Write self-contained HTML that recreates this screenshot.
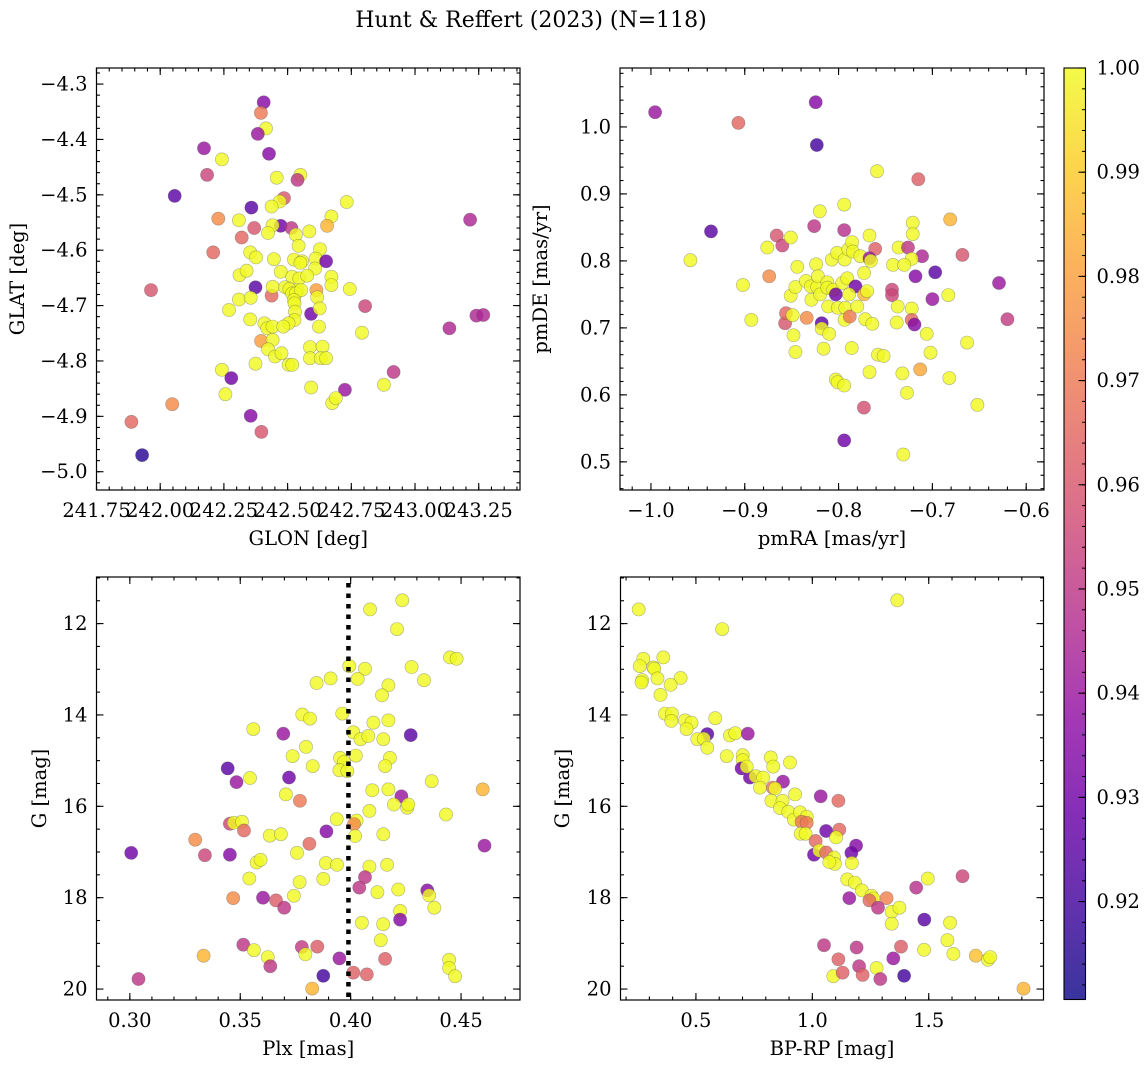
<!DOCTYPE html>
<html><head><meta charset="utf-8">
<style>
html,body{margin:0;padding:0;background:#fff;}
svg text{font-family:"DejaVu Serif","Liberation Serif",serif;fill:#000;}
</style></head>
<body>
<svg id="fig" width="1148" height="1067" viewBox="0 0 1148 1067" xmlns="http://www.w3.org/2000/svg">
<rect width="1148" height="1067" fill="#fff"/>
<text x="531" y="27" font-size="22" text-anchor="middle">Hunt &amp; Reffert (2023) (N=118)</text>
</svg>
<script>
// ---------- Panel 1: GLON / GLAT ----------
const p1Lon=[242.406,242.395,242.415,242.383,242.427,242.172,242.184,242.242,242.057,242.457,242.550,242.539,242.486,242.469,242.437,242.732,242.358,242.228,242.309,242.369,242.320,242.473,242.441,242.515,242.423,242.532,242.543,242.585,242.672,242.655,242.208,242.353,242.376,242.446,242.627,242.610,242.608,242.651,242.525,242.557,242.550,242.473,242.311,242.339,242.518,242.546,242.577,242.672,242.672,242.374,241.964,242.744,242.539,242.613,242.616,242.309,242.355,242.437,242.441,242.490,242.507,242.518,242.532,242.553,242.525,242.527,242.529,242.527,242.504,242.270,242.592,242.804,242.792,243.135,243.241,243.268,243.216,242.353,242.409,242.420,242.441,242.483,242.396,242.441,242.423,242.451,242.476,242.504,242.518,242.588,242.588,242.637,242.630,242.651,242.374,242.242,242.279,242.256,242.047,242.592,242.725,242.675,242.689,242.878,242.916,242.355,242.397,241.887,241.929,242.626,242.623];
const p1Lat=[-4.333,-4.352,-4.380,-4.390,-4.426,-4.416,-4.464,-4.436,-4.502,-4.469,-4.464,-4.473,-4.506,-4.512,-4.521,-4.513,-4.523,-4.543,-4.546,-4.560,-4.577,-4.556,-4.555,-4.560,-4.569,-4.572,-4.592,-4.566,-4.539,-4.556,-4.604,-4.604,-4.613,-4.616,-4.598,-4.615,-4.633,-4.620,-4.617,-4.620,-4.623,-4.639,-4.645,-4.637,-4.648,-4.651,-4.646,-4.648,-4.663,-4.667,-4.672,-4.670,-4.672,-4.672,-4.685,-4.689,-4.686,-4.682,-4.666,-4.667,-4.670,-4.678,-4.678,-4.672,-4.690,-4.696,-4.711,-4.726,-4.732,-4.708,-4.715,-4.701,-4.749,-4.741,-4.718,-4.717,-4.545,-4.725,-4.732,-4.741,-4.738,-4.738,-4.764,-4.762,-4.779,-4.792,-4.786,-4.807,-4.807,-4.775,-4.795,-4.774,-4.795,-4.795,-4.805,-4.816,-4.831,-4.860,-4.878,-4.848,-4.852,-4.876,-4.867,-4.843,-4.820,-4.899,-4.928,-4.910,-4.970,-4.705,-4.738];
const p1Prob=[0.935,0.97,1,0.94,0.935,0.94,0.955,1,0.925,1,1,0.95,0.96,1,1,1,0.925,0.975,1,0.96,0.965,0.93,1,0.95,1,1,1,1,1,0.985,0.965,1,1,1,1,1,1,0.93,1,1,1,1,1,1,1,1,1,1,1,0.925,0.96,1,1,0.98,1,1,1,0.965,1,1,1,1,1,1,1,1,1,1,1,1,0.93,0.955,1,0.945,0.945,0.945,0.945,1,1,1,1,1,0.98,1,1,1,1,1,1,1,1,1,1,1,1,1,0.93,1,0.975,1,0.94,1,1,1,0.95,0.935,0.96,0.965,0.915,1,1];
// ---------- Panel 2: pmRA / pmDE ----------
const p2Ra=[-0.9956,-0.9068,-0.8244,-0.8232,-0.759,-0.715,-0.936,-0.958,-0.902,-0.893,-0.874,-0.866,-0.860,-0.876,-0.851,-0.820,-0.794,-0.826,-0.794,-0.767,-0.761,-0.721,-0.721,-0.681,-0.736,-0.726,-0.711,-0.722,-0.668,-0.742,-0.730,-0.718,-0.697,-0.629,-0.620,-0.700,-0.683,-0.743,-0.743,-0.737,-0.722,-0.738,-0.722,-0.719,-0.706,-0.702,-0.663,-0.713,-0.682,-0.652,-0.732,-0.727,-0.731,-0.794,-0.773,-0.767,-0.758,-0.752,-0.786,-0.803,-0.801,-0.794,-0.816,-0.846,-0.848,-0.857,-0.856,-0.849,-0.834,-0.818,-0.818,-0.810,-0.811,-0.829,-0.851,-0.846,-0.844,-0.8348,-0.8296,-0.8228,-0.8196,-0.824,-0.822,-0.812,-0.812,-0.8056,-0.803,-0.8072,-0.8016,-0.7936,-0.7896,-0.7856,-0.7848,-0.7768,-0.7728,-0.796,-0.7908,-0.782,-0.7888,-0.7728,-0.7696,-0.8008,-0.7928,-0.7936,-0.788,-0.78,-0.7716,-0.764,-0.767,-0.7656];
const p2De=[1.022,1.006,1.037,0.973,0.934,0.922,0.844,0.801,0.764,0.712,0.777,0.838,0.823,0.820,0.835,0.874,0.884,0.852,0.846,0.838,0.818,0.857,0.840,0.862,0.820,0.820,0.807,0.803,0.809,0.794,0.794,0.777,0.783,0.767,0.713,0.743,0.749,0.757,0.749,0.732,0.729,0.708,0.712,0.705,0.691,0.663,0.678,0.638,0.625,0.585,0.632,0.603,0.511,0.532,0.581,0.634,0.660,0.658,0.670,0.623,0.619,0.614,0.669,0.664,0.689,0.707,0.722,0.719,0.715,0.707,0.699,0.691,0.732,0.742,0.748,0.761,0.791,0.770,0.762,0.761,0.750,0.795,0.777,0.768,0.760,0.757,0.750,0.802,0.812,0.802,0.817,0.828,0.814,0.807,0.782,0.767,0.774,0.762,0.750,0.750,0.755,0.730,0.730,0.712,0.717,0.732,0.713,0.706,0.804,0.800];
const p2Prob=[0.94,0.965,0.935,0.92,1,0.963,0.925,1,1,1,0.975,0.96,0.955,1,1,1,1,0.95,0.948,1,0.963,1,1,0.985,1,0.95,0.945,1,0.96,1,1,0.935,0.925,0.94,0.952,0.94,1,0.955,0.955,1,1,1,0.965,0.935,1,1,1,0.982,1,1,1,1,1,0.93,0.958,1,1,1,1,1,1,1,1,1,1,0.96,0.965,1,0.975,0.925,1,1,1,1,1,1,1,1,1,1,1,1,1,1,1,1,0.93,1,1,1,1,1,1,1,1,1,1,0.93,1,0.985,1,1,1,1,0.97,1,1,1,0.94,1];
// ---------- Panel 3: Plx / G ----------
const p3Plx=[0.4234,0.4088,0.4210,0.4450,0.4480,0.3994,0.4065,0.4032,0.4276,0.4332,0.3846,0.3909,0.4171,0.4142,0.3781,0.3816,0.3962,0.4103,0.4171,0.3559,0.3695,0.4272,0.4012,0.4045,0.4080,0.4148,0.3798,0.3737,0.4024,0.3952,0.3970,0.3949,0.3985,0.4178,0.4156,0.3828,0.3443,0.3721,0.3544,0.3483,0.4367,0.4598,0.3707,0.3770,0.4098,0.4171,0.4230,0.4196,0.4256,0.4261,0.4085,0.4432,0.3937,0.4027,0.4015,0.3453,0.3471,0.3508,0.3517,0.3296,0.3634,0.3684,0.3890,0.4020,0.4148,0.3813,0.4606,0.3006,0.3340,0.3453,0.3757,0.3574,0.3592,0.3888,0.3938,0.4085,0.4165,0.4065,0.4039,0.3541,0.3769,0.3876,0.4121,0.4216,0.4347,0.4356,0.4379,0.3468,0.3603,0.3662,0.3699,0.3743,0.4224,0.4224,0.4051,0.4147,0.4136,0.3514,0.3562,0.3625,0.3636,0.3779,0.3795,0.3849,0.3949,0.4156,0.3334,0.4446,0.4446,0.4473,0.3039,0.3876,0.4012,0.4073,0.3826];
const p3G=[11.49,11.69,12.12,12.74,12.77,12.93,12.99,13.21,12.95,13.24,13.30,13.20,13.35,13.57,13.99,14.08,13.97,14.17,14.12,14.31,14.41,14.44,14.38,14.53,14.46,14.53,14.70,14.90,14.89,14.94,15.03,15.21,15.23,14.94,15.12,15.12,15.17,15.37,15.38,15.47,15.45,15.63,15.74,15.88,15.65,15.63,15.78,15.96,16.03,15.96,16.10,16.18,16.28,16.31,16.39,16.38,16.36,16.34,16.53,16.73,16.64,16.61,16.55,16.65,16.61,16.82,16.86,17.02,17.07,17.06,17.02,17.23,17.17,17.24,17.28,17.32,17.28,17.55,17.78,17.58,17.66,17.59,17.88,17.82,17.84,17.95,18.22,18.01,18.00,18.06,18.22,17.96,18.29,18.48,18.55,18.58,18.93,19.03,19.15,19.30,19.50,19.08,19.24,19.07,19.33,19.34,19.27,19.36,19.54,19.72,19.78,19.71,19.64,19.68,19.99];
const p3Prob=[1,1,1,1,1,1,1,1,1,1,1,1,1,1,1,1,1,1,1,1,0.94,0.925,1,1,1,1,1,1,1,1,1,1,1,1,1,1,0.925,0.93,1,0.94,1,0.985,1,0.97,1,1,0.94,1,1,1,1,1,1,1,0.975,0.955,1,1,0.965,0.975,1,1,0.935,1,1,0.965,0.94,0.93,0.955,0.935,1,1,1,1,1,1,1,0.95,0.95,1,1,1,1,1,0.935,1,1,0.975,0.94,0.962,0.95,1,1,0.935,1,1,1,0.95,1,1,0.95,0.952,1,0.962,0.94,0.963,0.985,1,1,1,0.95,0.92,0.963,0.963,0.985];
// ---------- Panel 4: BP-RP / G ----------
const p4Col=[0.254,1.365,0.613,0.274,0.259,0.317,0.321,0.360,0.269,0.266,0.335,0.434,0.391,0.348,0.367,0.397,0.394,0.453,0.481,0.460,0.583,0.549,0.506,0.534,0.549,0.646,0.669,0.723,0.632,0.701,0.701,0.696,0.732,0.718,0.756,0.789,0.775,0.821,0.832,0.904,0.874,0.830,0.840,0.926,1.036,1.112,0.824,0.872,0.861,0.897,0.921,0.947,0.976,0.954,0.976,1.059,1.116,1.102,0.950,0.971,1.014,1.188,1.168,1.007,1.030,1.059,1.093,1.097,1.073,1.170,1.150,1.183,1.496,1.645,1.446,1.213,1.254,1.262,1.159,1.245,1.319,1.282,1.341,1.374,1.341,1.481,1.592,1.580,1.480,1.606,1.702,1.754,1.764,1.907,1.050,1.190,1.381,1.348,1.112,1.201,1.276,1.090,1.130,1.216,1.292,1.394];
const p4G=[11.69,11.49,12.12,12.77,12.93,12.96,12.99,12.74,13.24,13.29,13.20,13.19,13.34,13.56,13.97,13.97,14.13,14.12,14.17,14.31,14.07,14.42,14.53,14.52,14.72,14.45,14.40,14.41,14.90,14.88,14.99,15.17,15.37,15.13,15.34,15.37,15.59,14.93,15.13,15.04,15.46,15.59,15.61,15.74,15.78,15.88,15.88,15.88,16.04,16.12,16.29,16.13,16.23,16.34,16.36,16.54,16.51,16.68,16.60,16.60,16.76,16.86,17.02,17.06,16.97,17.01,17.12,17.26,17.22,17.24,17.60,17.67,17.58,17.53,17.78,17.84,17.96,18.02,18.01,18.06,18.01,18.22,18.31,18.22,18.57,18.48,18.55,18.93,19.14,19.23,19.27,19.36,19.30,19.99,19.04,19.09,19.07,19.33,19.35,19.50,19.54,19.72,19.64,19.69,19.78,19.71];
const p4Prob=[1,1,1,1,1,1,1,1,1,1,1,1,1,1,1,1,1,1,1,1,1,0.925,1,1,1,1,1,0.94,1,1,1,0.93,0.93,1,1,1,1,1,1,1,0.94,0.97,1,1,0.94,0.965,1,1,1,1,1,1,1,0.97,0.97,0.93,0.965,1,1,1,0.965,0.935,0.93,0.93,1,0.965,1,1,1,1,1,1,1,0.955,0.948,1,1,1,0.94,0.965,0.972,0.95,1,1,1,0.925,1,1,1,1,0.988,1,1,0.985,0.95,0.95,0.962,0.94,0.963,0.95,1,1,0.963,0.963,0.95,0.92];
// ---------- Colorbar ----------
const cbTicks=[0.92,0.93,0.94,0.95,0.96,0.97,0.98,0.99,1.00];
const cbMin=0.9106, cbMax=1.0;

const FS=19.5;
const NS="http://www.w3.org/2000/svg";
const svg=document.getElementById('fig');
function mk(tag,attrs,parent){const e=document.createElementNS(NS,tag);for(const k in attrs)e.setAttribute(k,attrs[k]);(parent||svg).appendChild(e);return e;}
const stops=[[13,8,135],[65,4,157],[106,0,168],[143,13,164],[177,42,144],[204,71,120],[225,100,98],[242,132,75],[252,166,54],[252,206,37],[240,249,33]];
function plasma(t){t=Math.max(0,Math.min(1,t));const f=t*10,i=Math.min(9,Math.floor(f)),u=f-i;const a=stops[i],b=stops[i+1];return 'rgb('+[0,1,2].map(k=>Math.round(a[k]+(b[k]-a[k])*u)).join(',')+')';}
function probColor(p){return plasma((p-cbMin)/(cbMax-cbMin));}
function fmt(v,d){return (v<0?'\u2212':'')+Math.abs(v).toFixed(d);}

function panel(cfg){
  const g=mk('g',{});
  
  
  const {x0,x1,y0,y1,xlim,ylim}=cfg;
  const sx=v=>x0+(v-xlim[0])/(xlim[1]-xlim[0])*(x1-x0);
  const sy=v=>y1-(v-ylim[0])/(ylim[1]-ylim[0])*(y1-y0);
  const pg=mk('g',{},g);
  
  
  for(let i=0;i<cfg.xs.length;i++){
    const c=mk('circle',{cx:sx(cfg.xs[i]).toFixed(1),cy:sy(cfg.ys[i]).toFixed(1),r:6.6,fill:probColor(cfg.ps[i]),'fill-opacity':0.82,stroke:'#555','stroke-opacity':0.45,'stroke-width':0.6},pg);
    
    
  }
  if(cfg.vline!==undefined){
    const l=mk('line',{x1:sx(cfg.vline),x2:sx(cfg.vline),y1:y0+6,y2:y1,stroke:'#000','stroke-width':4.5,'stroke-dasharray':'4.5,6'},g);
    
    
  }
  const tg=mk('g',{stroke:'#000','stroke-width':1.1},g);
  function ticks(vals,len,axis,labels){
    vals.forEach((v,idx)=>{
      if(axis==='x'){const x=sx(v);if(x<x0-0.5||x>x1+0.5)return;
        mk('line',{x1:x,x2:x,y1:y1,y2:y1-len},tg);mk('line',{x1:x,x2:x,y1:y0,y2:y0+len},tg);
        if(labels){const t=mk('text',{x:x,y:y1+27,'font-size':FS,'text-anchor':'middle'},g);t.textContent=labels[idx];
          }
      } else {const y=sy(v);if(y<y0-0.5||y>y1+0.5)return;
        mk('line',{x1:x0,x2:x0+len,y1:y,y2:y},tg);mk('line',{x1:x1,x2:x1-len,y1:y,y2:y},tg);
        if(labels){const t=mk('text',{x:x0-9,y:y+6.5,'font-size':FS,'text-anchor':'end'},g);t.textContent=labels[idx];
          }
      }
    });
  }
  const rng=(a,b,s)=>{const r=[];for(let v=a;v<=b+s/1e3;v+=s)r.push(+v.toFixed(6));return r;};
  ticks(rng(cfg.xmin[0],cfg.xmin[1],cfg.xmin[2]),3.5,'x');
  ticks(rng(cfg.ymin[0],cfg.ymin[1],cfg.ymin[2]),3.5,'y');
  ticks(cfg.xt,7,'x',cfg.xt.map(v=>fmt(v,cfg.xd)));
  ticks(cfg.yt,7,'y',cfg.yt.map(v=>fmt(v,cfg.yd)));
  const box=mk('rect',{x:x0,y:y0,width:x1-x0,height:y1-y0,fill:'none',stroke:'#000','stroke-width':1.2},g);
  
  
  const xl=mk('text',{x:(x0+x1)/2,y:y1+55,'font-size':FS,'text-anchor':'middle'},g);xl.textContent=cfg.xlabel;
  
  const yx=cfg.ylx, yy=(y0+y1)/2;
  const yl=mk('text',{x:yx,y:yy,'font-size':FS,'text-anchor':'middle',transform:'rotate(-90 '+yx+' '+yy+')'},g);yl.textContent=cfg.ylabel;
  
}

panel({name:'glon-glat-panel',x0:96.5,x1:520,y0:68,y1:490,xlim:[241.75,243.412],ylim:[-5.033,-4.271],xs:p1Lon,ys:p1Lat,ps:p1Prob,
  xt:[241.75,242.00,242.25,242.50,242.75,243.00,243.25],xd:2,yt:[-5.0,-4.9,-4.8,-4.7,-4.6,-4.5,-4.4,-4.3],yd:1,
  xmin:[241.75,243.4,0.05],ymin:[-5.02,-4.28,0.02],xlabel:'GLON [deg]',ylabel:'GLAT [deg]',ylx:24});
panel({name:'proper-motion-panel',x0:620,x1:1044,y0:68,y1:490,xlim:[-1.033,-0.581],ylim:[0.458,1.088],xs:p2Ra,ys:p2De,ps:p2Prob,
  xt:[-1.0,-0.9,-0.8,-0.7,-0.6],xd:1,yt:[0.5,0.6,0.7,0.8,0.9,1.0],yd:1,
  xmin:[-1.02,-0.58,0.02],ymin:[0.46,1.08,0.02],xlabel:'pmRA [mas/yr]',ylabel:'pmDE [mas/yr]',ylx:547});
panel({name:'plx-g-panel',x0:96.5,x1:520,y0:577,y1:1000,xlim:[0.2849,0.4767],ylim:[20.24,10.98],xs:p3Plx,ys:p3G,ps:p3Prob,vline:0.399,
  xt:[0.30,0.35,0.40,0.45],xd:2,yt:[12,14,16,18,20],yd:0,
  xmin:[0.29,0.47,0.01],ymin:[11,20,0.5],xlabel:'Plx [mas]',ylabel:'G [mag]',ylx:46});
panel({name:'cmd-panel',x0:620.5,x1:1043.5,y0:577,y1:1000,xlim:[0.176,1.993],ylim:[20.24,10.98],xs:p4Col,ys:p4G,ps:p4Prob,
  xt:[0.5,1.0,1.5],xd:1,yt:[12,14,16,18,20],yd:0,
  xmin:[0.2,1.9,0.1],ymin:[11,20,0.5],xlabel:'BP-RP [mag]',ylabel:'G [mag]',ylx:569});

(function(){
  const cx0=1064,cx1=1085.5,cy0=68,cy1=999.5;
  const cg=mk('g',{});
  
  
  const defs=mk('defs',{},cg);
  const lg=mk('linearGradient',{id:'cbg',x1:0,y1:1,x2:0,y2:0},defs);
  for(let i=0;i<=20;i++){mk('stop',{offset:(i/20),'stop-color':plasma(i/20)},lg);}
  mk('rect',{x:cx0,y:cy0,width:cx1-cx0,height:cy1-cy0,fill:'url(#cbg)','fill-opacity':0.82},cg);
  const sy=v=>cy1-(v-cbMin)/(cbMax-cbMin)*(cy1-cy0);
  for(let v=0.912;v<=1.0001;v+=0.002){const y=sy(v);mk('line',{x1:cx1,x2:cx1-3.5,y1:y,y2:y,stroke:'#000','stroke-width':1},cg);}
  cbTicks.forEach(v=>{const y=sy(v);mk('line',{x1:cx1,x2:cx1-7,y1:y,y2:y,stroke:'#000','stroke-width':1.1},cg);
    const t=mk('text',{x:cx1+11,y:y+6.5,'font-size':FS},cg);t.textContent=v.toFixed(2);
    });
  mk('rect',{x:cx0,y:cy0,width:cx1-cx0,height:cy1-cy0,fill:'none',stroke:'#000','stroke-width':1.1},cg);
})();
</script>
</body></html>
